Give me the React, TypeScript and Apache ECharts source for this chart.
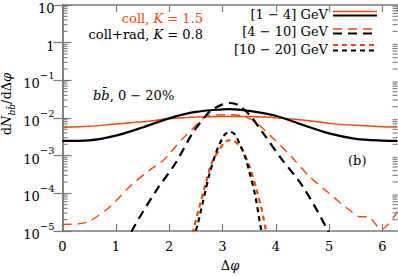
import React, { useEffect, useRef } from "react";
import * as echarts from "echarts";

// ---- data ----
const collLowX = [0, 0.5, 1, 1.5, 2, 2.5, 3, 3.14, 3.5, 4, 4.5, 5, 5.5, 6, 6.28];
const collLowY = [5.6e-3, 6.0e-3, 6.9e-3, 7.9e-3, 9.5e-3, 1.06e-2, 1.1e-2, 1.1e-2, 1.09e-2, 1.02e-2, 8.8e-3, 7.2e-3, 6.4e-3, 5.9e-3, 5.8e-3];

const radLowX = [0, 0.5, 1, 1.5, 2, 2.5, 3, 3.14, 3.5, 4, 4.5, 5, 5.5, 6, 6.28];
const radLowY = [2.46e-3, 2.55e-3, 3.4e-3, 5.6e-3, 9.8e-3, 1.45e-2, 1.7e-2, 1.72e-2, 1.55e-2, 1.15e-2, 6.6e-3, 3.9e-3, 2.8e-3, 2.5e-3, 2.46e-3];

const collMidX = [0, 0.3, 0.5, 0.89, 1.26, 1.64, 1.86, 2.01, 2.26, 2.42, 2.67, 2.9, 3.14, 3.35, 3.57, 3.95, 4.32, 4.63, 5.0, 5.38, 5.57, 5.72, 5.98, 6.28];
const collMidY = [1.5e-5, 1.55e-5, 1.8e-5, 4.4e-5, 1.5e-4, 4.2e-4, 6.9e-4, 1.15e-3, 2.9e-3, 4.8e-3, 1.07e-2, 1.2e-2, 1.22e-2, 1.15e-2, 8.7e-3, 2.9e-3, 8.5e-4, 2.8e-4, 1.0e-4, 3.6e-5, 2.4e-5, 2.4e-5, 1.1e-5, 3.2e-5];

const radMidX = [1.2, 1.3, 1.76, 2.11, 2.45, 2.67, 2.79, 3.0, 3.14, 3.3, 3.51, 3.79, 4.1, 4.51, 4.98, 5.08];
const radMidY = [4e-6, 1e-5, 1.2e-4, 6e-4, 4.2e-3, 1.07e-2, 1.6e-2, 2.3e-2, 2.5e-2, 2.2e-2, 1.2e-2, 3.5e-3, 8.5e-4, 1.5e-4, 1e-5, 4e-6];

const collHighX = [2.4, 2.45, 2.56, 2.67, 2.8, 2.95, 3.05, 3.14, 3.23, 3.35, 3.5, 3.64, 3.73, 3.82, 3.87];
const collHighY = [5e-6, 1e-5, 4e-5, 1.5e-4, 6.5e-4, 1.5e-3, 2.3e-3, 2.6e-3, 2.4e-3, 1.6e-3, 5.5e-4, 1.25e-4, 4e-5, 1e-5, 5e-6];

const radHighX = [2.45, 2.54, 2.67, 2.76, 2.86, 2.95, 3.05, 3.14, 3.23, 3.32, 3.42, 3.51, 3.62, 3.73, 3.78];
const radHighY = [6e-6, 1.6e-5, 1.0e-4, 3.4e-4, 1.0e-3, 2.1e-3, 3.7e-3, 4.3e-3, 3.7e-3, 2.1e-3, 1.0e-3, 3.5e-4, 8e-5, 1e-5, 5e-6];

const legendLabels = ["[1 − 4] GeV", "[4 − 10] GeV", "[10 − 20] GeV"];
const xMin = 0;
const xMax = 2 * Math.PI;
const yMin = 1e-5;
const yMax = 10;

// minor tick positions of the log axis (2..9 × 10^n)
const minorTicks: number[] = [];
for (let e = -5; e < 1; e++) {
  for (let m = 2; m <= 9; m++) minorTicks.push(m * Math.pow(10, e));
}

const ORANGE = "#ff4500";
const BLACK = "#000000";
const AXIS = "#7a7a7a";
const FONT = '"DejaVu Serif", serif';

const pairs = (xs: number[], ys: number[]) => xs.map((x, i) => [x, ys[i]]);

export default function App() {
  const ref = useRef<HTMLDivElement>(null);
  useEffect(() => {
    document.body.style.margin = "0";
    const chart = echarts.init(ref.current!, undefined, { renderer: "svg" });

    const lineSeries = (
      name: string,
      xs: number[],
      ys: number[],
      color: string,
      width: number,
      dash: number[] | "solid"
    ) => ({
      name,
      type: "line",
      data: pairs(xs, ys),
      showSymbol: false,
      smooth: 0.3,
      clip: true,
      lineStyle: { color, width, type: dash },
      z: 3,
    });

    const supRich = {
      b: { fontSize: 13, fontFamily: FONT, color: "#000", verticalAlign: "bottom", lineHeight: 20 },
      sup: { fontSize: 10, fontFamily: FONT, color: "#000", verticalAlign: "top", lineHeight: 12 },
    };

    const textStyleBase = { fontFamily: FONT, fontSize: 13, fill: "#000" };

    const option: any = {
      animation: false,
      grid: { left: 62.5, right: 0.5, top: 5, bottom: 45, outerBoundsMode: "none", containLabel: false },
      xAxis: [
        {
          type: "value",
          min: xMin,
          max: xMax,
          interval: 1,
          position: "bottom",
          axisLine: { show: true, lineStyle: { color: AXIS, width: 1.5 } },
          axisTick: { show: true, inside: true, length: 7, lineStyle: { color: AXIS, width: 1.2 } },
          axisLabel: {
            color: "#000",
            fontFamily: FONT,
            fontSize: 13,
            margin: 9,
            showMaxLabel: false,
            formatter: (v: number) => (Math.abs(v - Math.round(v)) < 1e-6 ? String(Math.round(v)) : ""),
          },
          splitLine: { show: false },
          name: "{r|Δ}{i|φ}",
          nameLocation: "middle",
          nameGap: 28,
          nameTextStyle: {
            rich: {
              r: { fontFamily: FONT, fontSize: 13, color: "#000" },
              i: { fontFamily: FONT, fontSize: 13, fontStyle: "italic", color: "#000" },
            },
          },
        },
        {
          type: "value",
          min: xMin,
          max: xMax,
          interval: 1,
          position: "top",
          axisLine: { show: true, lineStyle: { color: AXIS, width: 1.5 } },
          axisTick: { show: true, inside: true, length: 7, lineStyle: { color: AXIS, width: 1.2 } },
          axisLabel: { show: false },
          splitLine: { show: false },
        },
      ],
      yAxis: [
        {
          type: "log",
          logBase: 10,
          min: yMin,
          max: yMax,
          interval: 1,
          position: "left",
          axisLine: { show: true, lineStyle: { color: AXIS, width: 1.5 } },
          axisTick: { show: true, inside: true, length: 9, lineStyle: { color: AXIS, width: 1.2 } },
          axisLabel: {
            margin: 8,
            formatter: (v: number) => {
              const e = Math.round(Math.log10(v));
              if (e === 1) return "{b|10}";
              if (e === 0) return "{b|1}";
              return "{b|10}{sup|−" + -e + "}";
            },
            rich: supRich,
          },
          splitLine: { show: false },
        },
        {
          type: "log",
          logBase: 10,
          min: yMin,
          max: yMax,
          interval: 1,
          position: "right",
          axisLine: { show: true, lineStyle: { color: AXIS, width: 1.5 } },
          axisTick: { show: true, inside: true, length: 9, lineStyle: { color: AXIS, width: 1.2 } },
          axisLabel: { show: false },
          splitLine: { show: false },
        },
      ],
      series: [
        {
          type: "custom",
          coordinateSystem: "cartesian2d",
          data: minorTicks.map((v) => [1, v]),
          silent: true,
          clip: false,
          z: 5,
          renderItem: (params: any, api: any) => {
            const pt = api.coord([1, api.value(1)]);
            const cs = params.coordSys;
            const st = { stroke: AXIS, lineWidth: 1.1 };
            return {
              type: "group",
              children: [
                { type: "line", shape: { x1: cs.x, y1: pt[1], x2: cs.x + 5, y2: pt[1] }, style: st },
                { type: "line", shape: { x1: cs.x + cs.width, y1: pt[1], x2: cs.x + cs.width - 5, y2: pt[1] }, style: st },
              ],
            };
          },
        },
        lineSeries("coll [1-4]", collLowX, collLowY, ORANGE, 1.5, "solid"),
        lineSeries("coll+rad [1-4]", radLowX, radLowY, BLACK, 2.2, "solid"),
        lineSeries("coll [4-10]", collMidX, collMidY, ORANGE, 1.4, [9, 6]),
        lineSeries("coll+rad [4-10]", radMidX, radMidY, BLACK, 2.2, [9, 6]),
        lineSeries("coll [10-20]", collHighX, collHighY, ORANGE, 2.2, [5, 4]),
        lineSeries("coll+rad [10-20]", radHighX, radHighY, BLACK, 2.2, [5, 4]),
      ],
      graphic: [
        {
          type: "text",
          x: 8,
          y: 104,
          rotation: Math.PI / 2,
          style: {
            text: "{r|d}{i|N}{sub|bb\u0304}{r|/dΔ}{i|φ}",
            align: "center",
            verticalAlign: "middle",
            rich: {
              r: { fontFamily: FONT, fontSize: 13, fill: "#000", verticalAlign: "top", lineHeight: 16 },
              i: { fontFamily: FONT, fontSize: 13, fontStyle: "italic", fill: "#000", verticalAlign: "top", lineHeight: 16 },
              sub: { fontFamily: FONT, fontSize: 9, fontStyle: "italic", fill: "#000", verticalAlign: "bottom", lineHeight: 11 },
            },
          },
        },
        {
          type: "text",
          x: 203,
          y: 18,
          style: {
            text: "{r|coll, }{i|K}{r| = 1.5}",
            align: "right",
            verticalAlign: "middle",
            rich: {
              r: { fontFamily: FONT, fontSize: 13, fill: ORANGE },
              i: { fontFamily: FONT, fontSize: 13, fontStyle: "italic", fill: ORANGE },
            },
          },
        },
        {
          type: "text",
          x: 203,
          y: 34,
          style: {
            text: "{r|coll+rad, }{i|K}{r| = 0.8}",
            align: "right",
            verticalAlign: "middle",
            rich: {
              r: { fontFamily: FONT, fontSize: 13, fill: "#000" },
              i: { fontFamily: FONT, fontSize: 13, fontStyle: "italic", fill: "#000" },
            },
          },
        },
        {
          type: "text",
          x: 93,
          y: 95,
          style: {
            text: "{i|bb\u0304}{r|, 0 − 20%}",
            align: "left",
            verticalAlign: "middle",
            rich: {
              r: { fontFamily: FONT, fontSize: 13, fill: "#000" },
              i: { fontFamily: FONT, fontSize: 13, fontStyle: "italic", fill: "#000" },
            },
          },
        },
        {
          type: "text",
          x: 348,
          y: 160,
          style: { ...textStyleBase, text: "(b)", align: "left", verticalAlign: "middle" },
        },
        ...legendLabels.map((t, i) => ({
          type: "text",
          x: 328,
          y: 14 + i * 17.5,
          style: { ...textStyleBase, text: t, align: "right", verticalAlign: "middle" },
        })),
        { type: "line", shape: { x1: 333, y1: 11.5, x2: 377, y2: 11.5 }, style: { stroke: ORANGE, lineWidth: 1.5 } },
        { type: "line", shape: { x1: 333, y1: 15.5, x2: 377, y2: 15.5 }, style: { stroke: BLACK, lineWidth: 2.2 } },
        { type: "line", shape: { x1: 333, y1: 29, x2: 377, y2: 29 }, style: { stroke: ORANGE, lineWidth: 1.4, lineDash: [9, 6] } },
        { type: "line", shape: { x1: 333, y1: 33.5, x2: 377, y2: 33.5 }, style: { stroke: BLACK, lineWidth: 2.2, lineDash: [9, 6] } },
        { type: "line", shape: { x1: 333, y1: 45, x2: 377, y2: 45 }, style: { stroke: ORANGE, lineWidth: 2.2, lineDash: [5, 4] } },
        { type: "line", shape: { x1: 333, y1: 50.5, x2: 377, y2: 50.5 }, style: { stroke: BLACK, lineWidth: 2.2, lineDash: [5, 4] } },
      ],
    };
    chart.setOption(option);
    return () => chart.dispose();
  }, []);
  return <div ref={ref} style={{ width: 398, height: 276 }} />;
}
